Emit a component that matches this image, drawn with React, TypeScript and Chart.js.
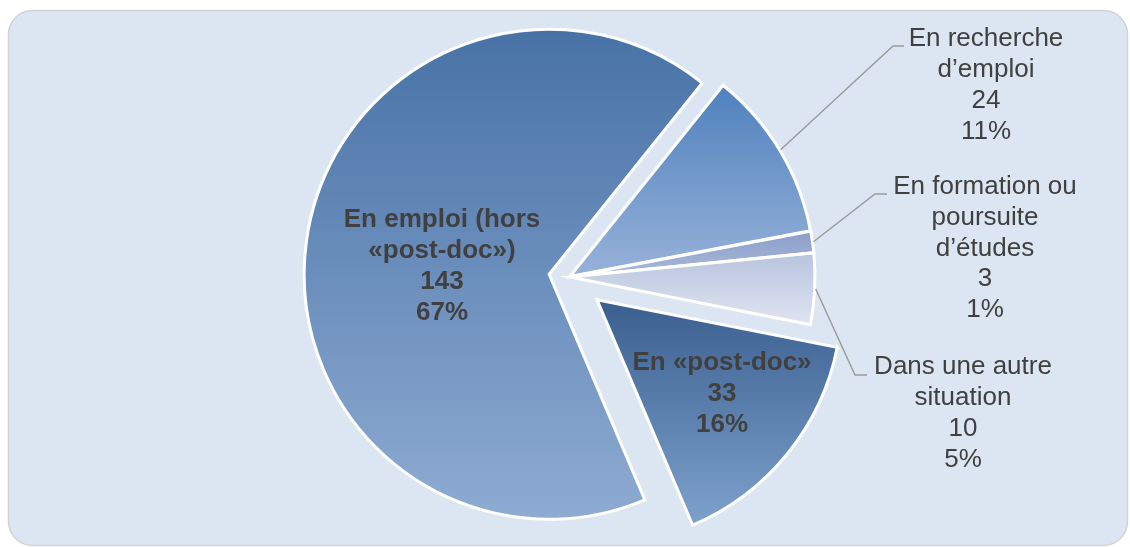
import { useEffect, useRef } from "react";
import { Chart, registerables } from "chart.js";

Chart.register(...registerables);

// ---- data ----
const categories = [
  "En emploi (hors «post-doc»)",
  "En recherche d’emploi",
  "En formation ou poursuite d’études",
  "Dans une autre situation",
  "En «post-doc»",
];
const counts = [143, 24, 3, 10, 33];
const percents = ["67%", "11%", "1%", "5%", "16%"];
const labelLines = [
  ["En emploi (hors", "«post-doc»)"],
  ["En recherche", "d’emploi"],
  ["En formation ou", "poursuite", "d’études"],
  ["Dans une autre", "situation"],
  ["En «post-doc»"],
];

// ---- styles / layout ----
const ROTATION = 157;
const RADIUS = 245;
const explode = [20, 1, 1, 1, 36];
const gradTop = ["#4872a6", "#4f81bd", "#8b9ec9", "#b8c4de", "#3a5f8f"];
const gradBottom = ["#8eabd2", "#97b2d9", "#aab9da", "#dfe4f0", "#7ea1cc"];
const labelBold = [true, false, false, false, true];
const labelAnchor = [
  { x: 442, y: 266.5 },
  { x: 986, y: 85.5 },
  { x: 985, y: 248.5 },
  { x: 963, y: 413.5 },
  { x: 722, y: 394 },
];
const leaderElbow: (null | { x: number; y: number; ex: number })[] = [
  null,
  { x: 893, y: 46, ex: 904 },
  { x: 875, y: 194, ex: 887 },
  { x: 855, y: 375, ex: 867 },
  null,
];
const LINE_H = 30.8;
const FONT_FAMILY = '"Liberation Sans", Arial, sans-serif';
const TEXT_COLOR = "#404040";

function sliceAngles(i: number) {
  const total = counts.reduce((a, b) => a + b, 0);
  let cum = 0;
  for (let k = 0; k < i; k++) cum += counts[k];
  const base = ((ROTATION - 90) * Math.PI) / 180;
  const s = base + (cum / total) * Math.PI * 2;
  const e = s + (counts[i] / total) * Math.PI * 2;
  return { s, e };
}

function centerOf(chart: any) {
  const a = chart.chartArea;
  return { cx: (a.left + a.right) / 2, cy: (a.top + a.bottom) / 2 };
}

const backgroundPlugin = {
  id: "bgbox",
  beforeDraw(chart: any) {
    const ctx = chart.ctx;
    ctx.save();
    ctx.beginPath();
    ctx.roundRect(8.5, 10.5, 1119, 535, 24);
    ctx.fillStyle = "#dce6f2";
    ctx.fill();
    ctx.lineWidth = 1.5;
    ctx.strokeStyle = "#d3d3d3";
    ctx.stroke();
    ctx.restore();
  },
};

const explodePlugin = {
  id: "explode",
  afterDatasetsUpdate(chart: any) {
    const meta = chart.getDatasetMeta(0);
    const { cx, cy } = centerOf(chart);
    meta.data.forEach((arc: any, i: number) => {
      const mid = (arc.startAngle + arc.endAngle) / 2;
      arc.x = cx + Math.cos(mid) * explode[i];
      arc.y = cy + Math.sin(mid) * explode[i];
    });
  },
};

const labelPlugin = {
  id: "labels",
  afterDraw(chart: any) {
    const ctx = chart.ctx;
    const meta = chart.getDatasetMeta(0);
    ctx.save();
    meta.data.forEach((arc: any, i: number) => {
      const el = leaderElbow[i];
      if (el) {
        const mid = (arc.startAngle + arc.endAngle) / 2;
        const r = arc.outerRadius + 1;
        const sx = arc.x + Math.cos(mid) * r;
        const sy = arc.y + Math.sin(mid) * r;
        ctx.beginPath();
        ctx.moveTo(sx, sy);
        ctx.lineTo(el.x, el.y);
        ctx.lineTo(el.ex, el.y);
        ctx.lineWidth = 1.4;
        ctx.strokeStyle = "#9a9a9a";
        ctx.stroke();
      }
      const lines = [...labelLines[i], String(counts[i]), percents[i]];
      ctx.font = `${labelBold[i] ? "bold " : ""}26px ${FONT_FAMILY}`;
      ctx.fillStyle = TEXT_COLOR;
      ctx.textAlign = "center";
      ctx.textBaseline = "middle";
      const n = lines.length;
      lines.forEach((t, j) => {
        ctx.fillText(t, labelAnchor[i].x, labelAnchor[i].y + (j - (n - 1) / 2) * LINE_H);
      });
    });
    ctx.restore();
  },
};

function gradientFor(context: any) {
  const chart = context.chart;
  const i = context.dataIndex;
  if (!chart.chartArea || i === undefined) return gradTop[i ?? 0];
  const { cx, cy } = centerOf(chart);
  const { s, e } = sliceAngles(i);
  const mid = (s + e) / 2;
  const ox = cx + Math.cos(mid) * explode[i];
  const oy = cy + Math.sin(mid) * explode[i];
  let minY = oy;
  let maxY = oy;
  for (let k = 0; k <= 60; k++) {
    const a = s + ((e - s) * k) / 60;
    const y = oy + Math.sin(a) * RADIUS;
    if (y < minY) minY = y;
    if (y > maxY) maxY = y;
  }
  void ox;
  const g = chart.ctx.createLinearGradient(0, minY, 0, maxY);
  g.addColorStop(0, gradTop[i]);
  g.addColorStop(1, gradBottom[i]);
  return g;
}

export default function App() {
  const ref = useRef<HTMLCanvasElement | null>(null);
  useEffect(() => {
    if (!ref.current) return;
    const chart = new Chart(ref.current, {
      type: "pie",
      data: {
        labels: categories,
        datasets: [
          {
            data: counts,
            backgroundColor: gradientFor as any,
            borderColor: "#ffffff",
            borderWidth: 3,
            borderJoinStyle: "miter" as any,
          },
        ],
      },
      options: {
        responsive: false,
        animation: false,
        events: [],
        rotation: ROTATION,
        radius: RADIUS,
        layout: { padding: { left: 8, right: 0, top: 7, bottom: 0 } },
        plugins: {
          legend: { display: false },
          tooltip: { enabled: false },
        },
      } as any,
      plugins: [backgroundPlugin, explodePlugin, labelPlugin],
    });
    return () => chart.destroy();
  }, []);
  return (
    <div style={{ position: "absolute", left: 0, top: 0, width: 1130, height: 547 }}>
      <canvas ref={ref} width={1130} height={547} style={{ display: "block", width: 1130, height: 547 }} />
    </div>
  );
}
